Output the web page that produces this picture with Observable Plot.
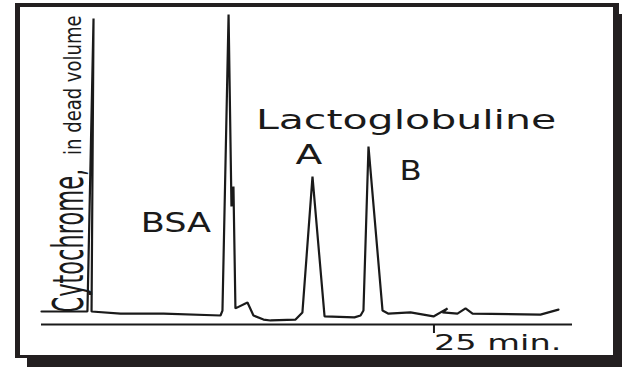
<!DOCTYPE html>
<html>
<head>
<meta charset="utf-8">
<script src="https://cdn.jsdelivr.net/npm/d3@7"></script>
<script src="https://cdn.jsdelivr.net/npm/@observablehq/plot@0.6"></script>
<style>
  html, body { margin: 0; padding: 0; background: #fff; }
  #wrap { position: relative; width: 622px; height: 367px; overflow: hidden; background: #fff; }
  #shadow { position: absolute; left: 27px; top: 14px; width: 595px; height: 353px; background: #231f20; }
  #box { position: absolute; left: 15px; top: 3px; width: 593px; height: 348px; background: #fff;
         border-style: solid; border-color: #231f20; border-width: 4px 6px 3px 5px; }
  #chart { position: absolute; left: 0; top: 0; }
</style>
</head>
<body>
<div id="wrap">
  <div id="shadow"></div>
  <div id="box"></div>
  <div id="chart"></div>
</div>
<script>
// Chromatogram trace: elution time (min) and detector signal (arbitrary units)
const times  = [0, 3.01, 3.41, 3.28, 5.18, 8.0, 11.73, 11.86, 12.26, 12.45,
                12.58, 12.71, 13.5, 13.89, 14.55, 15.01, 16.65, 17.1, 17.76, 18.55,
                20.51, 20.91, 21.1, 21.43, 22.35, 22.74, 24.18, 25.69, 26.61, 26.28,
                27.26, 27.79, 28.25, 32.7, 33.88];
const signal = [4.2, 4.2, 98.7, 4.2, 3.5, 3.5, 2.9, 4.5, 100, 38.1,
                44.5, 5.2, 7.1, 2.9, 1.6, 1.3, 1.6, 3.9, 47.7, 2.6,
                2.3, 2.9, 4.5, 57.4, 4.5, 3.5, 3.9, 2.6, 5.2, 3.9,
                3.5, 5.2, 3.5, 3.2, 4.8];

// Peak annotations
const labelText   = ["Lactoglobuline", "A", "B", "BSA"];
const labelTime   = [14.05, 16.65, 23.46, 6.5];
const labelSignal = [63.2, 51.9, 46.5, 30];

// Axis
const xTicks = [25];
const xUnit = "min.";
const yLabelMain = "Cytochrome,";
const yLabelSub = "in dead volume";

const trace = times.map((t, i) => ({t, v: signal[i]}));
const labels = labelText.map((text, i) => ({text, t: labelTime[i], v: labelSignal[i]}));

const ink = "#1a1a1a";

const chart = Plot.plot({
  width: 622,
  height: 367,
  marginLeft: 41,
  marginRight: 50,
  marginTop: 14,
  marginBottom: 43,
  style: {background: "transparent", fontFamily: "DejaVu Sans", color: ink, overflow: "visible"},
  x: {domain: [0, 34.8], axis: null},
  y: {domain: [0, 100], axis: null},
  marks: [
    Plot.ruleY([0], {stroke: ink, strokeWidth: 2}),
    Plot.axisX({ticks: xTicks, tickSize: 9, tickPadding: 2, strokeWidth: 2, stroke: ink, label: null,
                tickFormat: d => `${d} ${xUnit}`, textAnchor: "start", dx: 11, fontSize: 21, fill: ink}),
    Plot.line(trace, {x: "t", y: "v", stroke: ink, strokeWidth: 2.2, curve: "linear", strokeLinejoin: "miter"}),
    Plot.text(labels, {x: "t", y: "v", text: "text", textAnchor: "start", lineAnchor: "bottom", fontSize: 27, fill: ink}),
    Plot.text([yLabelMain], {frameAnchor: "bottom-left", rotate: -90, textAnchor: "start", lineAnchor: "bottom",
                             dx: 41, dy: -12, fontSize: 22.5, fill: ink}),
    Plot.text([yLabelSub], {frameAnchor: "top-left", rotate: -90, textAnchor: "end", lineAnchor: "bottom",
                            dx: 39, dy: 1, fontSize: 18, fill: ink})
  ]
});

// The original artwork is stretched horizontally; widen the glyphs accordingly
const stretch = new Map([[yLabelMain, 1.9], [yLabelSub, 1.25], [`25 ${xUnit}`, 1.6], ["BSA", 1.3], ["B", 1.2], ["Lactoglobuline", 1.52]]);
d3.select(chart).selectAll("text").each(function () {
  const s = stretch.get(this.textContent) ?? 1.45;
  const tr = this.getAttribute("transform") || "";
  const sc = ` scale(${s},1)`;
  const next = tr.includes("rotate") ? tr.replace(/\s*rotate/, `${sc} rotate`) : tr + sc;
  this.setAttribute("transform", next.trim());
});

document.getElementById("chart").appendChild(chart);
</script>
</body>
</html>
